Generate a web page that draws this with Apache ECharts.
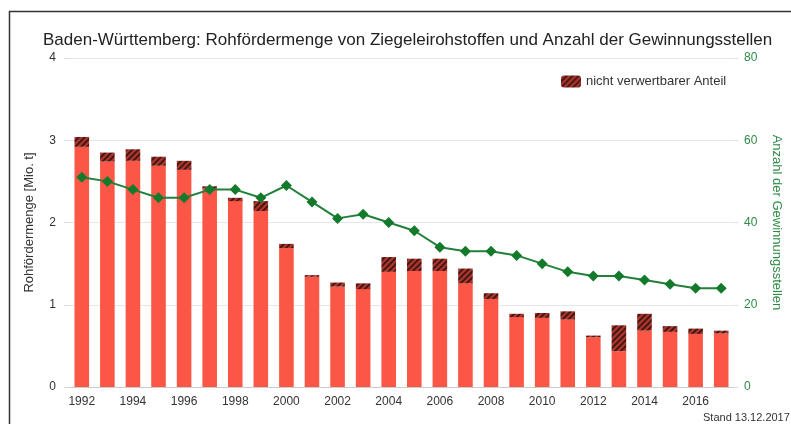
<!DOCTYPE html>
<html>
<head>
<meta charset="utf-8">
<script src="https://cdn.jsdelivr.net/npm/echarts@6/dist/echarts.min.js"></script>
<style>
  html, body { margin: 0; padding: 0; background: #fff; }
  #chart { width: 791px; height: 424px; }
</style>
</head>
<body>
<div id="chart"></div>
<script>
var jahre = ["1992", "1993", "1994", "1995", "1996", "1997", "1998", "1999", "2000", "2001", "2002", "2003", "2004",
  "2005", "2006", "2007", "2008", "2009", "2010", "2011", "2012", "2013", "2014", "2015", "2016", "2017"];
// Rohfördermenge, verwertbarer Teil [Mio. t]
var verwertbar = [2.92, 2.74, 2.75, 2.69, 2.64, 2.41, 2.26, 2.14, 1.69, 1.34, 1.22, 1.19, 1.40,
  1.41, 1.41, 1.26, 1.07, 0.85, 0.84, 0.82, 0.605, 0.435, 0.685, 0.67, 0.645, 0.65];
// nicht verwertbarer Anteil [Mio. t]
var nichtVerwertbar = [0.12, 0.11, 0.14, 0.11, 0.11, 0.03, 0.04, 0.12, 0.05, 0.02, 0.05, 0.07, 0.18,
  0.15, 0.15, 0.18, 0.07, 0.04, 0.06, 0.10, 0.02, 0.315, 0.205, 0.07, 0.065, 0.035];
// Anzahl der Gewinnungsstellen
var anzahl = [51, 50, 48, 46, 46, 48, 48, 46, 49, 45, 41, 42, 40,
  38, 34, 33, 33, 32, 30, 28, 27, 27, 26, 25, 24, 24];

// Schraffur fuer den nicht verwertbaren Anteil
var hatch = document.createElement("canvas");
hatch.width = 6;
hatch.height = 6;
var hc = hatch.getContext("2d");
hc.fillStyle = "#a8342c";
hc.fillRect(0, 0, 6, 6);
hc.strokeStyle = "#3a1410";
hc.lineWidth = 1.6;
hc.beginPath();
hc.moveTo(-1, 7); hc.lineTo(7, -1);
hc.moveTo(-1, 1); hc.lineTo(1, -1);
hc.moveTo(5, 7); hc.lineTo(7, 5);
hc.stroke();

var font = "Liberation Sans";
var myChart = echarts.init(document.getElementById("chart"));
var option = {
  backgroundColor: "#fff",
  animation: false,
  textStyle: { fontFamily: font },
  title: {
    text: "Baden-Württemberg: Rohfördermenge von Ziegeleirohstoffen und Anzahl der Gewinnungsstellen",
    left: 38,
    top: 27,
    textStyle: { fontSize: 17, fontWeight: "normal", color: "#222", fontFamily: font }
  },
  legend: {
    data: ["nicht verwertbarer Anteil"],
    left: 556,
    top: 70,
    itemWidth: 20,
    itemHeight: 12,
    itemGap: 8,
    textStyle: { fontSize: 13, color: "#333", fontFamily: font }
  },
  grid: { left: 69, right: 49, top: 58, bottom: 37 },
  xAxis: {
    type: "category",
    data: jahre,
    axisLine: { lineStyle: { color: "#ccc" } },
    axisTick: { show: false },
    axisLabel: { interval: 1, color: "#333", fontSize: 12, margin: 9, fontFamily: font }
  },
  yAxis: [
    {
      type: "value",
      min: 0,
      max: 4,
      interval: 1,
      name: "Rohfördermenge [Mio. t]",
      nameLocation: "middle",
      nameGap: 33,
      nameTextStyle: { fontSize: 13, color: "#333", fontFamily: font },
      axisLabel: { color: "#333", fontSize: 12, margin: 13, fontFamily: font },
      axisTick: { show: true, length: 5, lineStyle: { color: "#ddd" } },
      axisLine: { show: false },
      splitLine: { lineStyle: { color: "#e6e6e6" } }
    },
    {
      type: "value",
      min: 0,
      max: 80,
      interval: 20,
      name: "Anzahl der Gewinnungsstellen",
      nameLocation: "middle",
      nameRotate: -90,
      nameGap: 36,
      nameTextStyle: { fontSize: 13, color: "#2e8b45", fontFamily: font },
      axisLabel: { color: "#2e8b45", fontSize: 12, margin: 10, fontFamily: font },
      axisTick: { show: true, length: 4, lineStyle: { color: "#ddd" } },
      axisLine: { show: false },
      splitLine: { show: false }
    }
  ],
  series: [
    {
      name: "verwertbar",
      type: "bar",
      stack: "menge",
      barWidth: "57%",
      itemStyle: { color: "#fb5646" },
      data: verwertbar
    },
    {
      name: "nicht verwertbarer Anteil",
      type: "bar",
      stack: "menge",
      itemStyle: { color: { image: hatch, repeat: "repeat" } },
      data: nichtVerwertbar
    },
    {
      name: "Anzahl",
      type: "line",
      yAxisIndex: 1,
      z: 5,
      symbol: "diamond",
      symbolSize: 11,
      lineStyle: { color: "#23803a", width: 2 },
      itemStyle: { color: "#137a2c" },
      data: anzahl
    }
  ],
  graphic: [
    {
      type: "rect",
      left: 7,
      top: 9,
      shape: { width: 900, height: 500 },
      style: { fill: null, stroke: "#333", lineWidth: 1.5 },
      silent: true
    },
    {
      type: "text",
      left: 703,
      top: 412,
      style: { text: "Stand 13.12.2017", fontSize: 11, fill: "#333", fontFamily: font }
    }
  ]
};
myChart.setOption(option);
</script>
</body>
</html>
